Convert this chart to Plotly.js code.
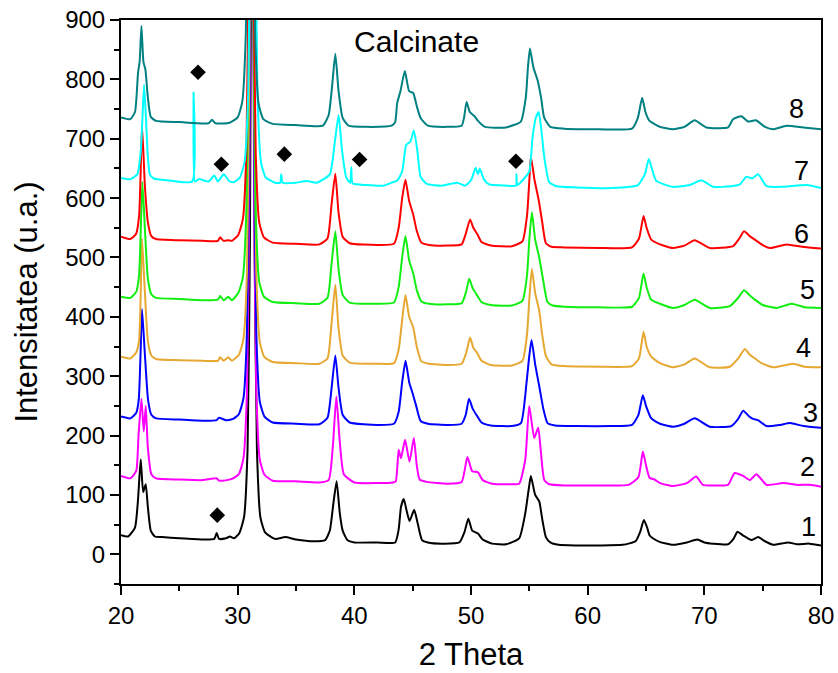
<!DOCTYPE html>
<html>
<head>
<meta charset="utf-8">
<script src="https://cdn.plot.ly/plotly-3.0.1.min.js"></script>
<style>html,body{margin:0;padding:0;background:#fff;}#chart{width:838px;height:673px;}</style>
</head>
<body>
<div id="chart"></div>
<script>
// ---- data (2 Theta vs intensity, curves offset) ----
const seriesNames = ["1","2","3","4","5","6","7","8"];
const seriesColors = ["#000000","#FF00FF","#0000FF","#E6A832","#11EE11","#FF0000","#00FFFF","#008080"];

const x1 = [20,20.6,21.2,21.45,21.69,21.9,22.12,22.3,22.55,22.9,23.5,25,27,28.0,28.2,28.4,29.0,29.34,29.7,30.15,30.55,30.85,31.05,31.25,31.45,31.65,31.95,32.35,33.2,34.07,35,36.5,37.5,37.9,38.2,38.48,38.75,39.0,39.4,40,42,43.5,43.8,44.0,44.24,44.5,44.73,45.13,45.4,45.8,46.3,47.5,49.0,49.45,49.77,50.1,50.6,51.0,51.8,53,54.13,54.65,54.95,55.13,55.5,55.85,56.1,56.42,56.8,57.5,59,61,63,64.1,64.5,64.82,65.1,65.3,65.59,66.16,67.3,68.5,69.4,70.0,70.75,72.03,72.5,72.84,73.3,74.04,74.61,75.2,75.9,77.2,77.9,79.0,80];
const y1 = [32,30,45,90,160,105,118,80,40,30,29,27,25,26,36,26,27,30,27,36,63,178,528,1528,527,177,62,37,26,29,25,22,24,40,85,123,70,40,24,20,20,20,42,80,93,72,56,75,55,24,20,18,20,38,60,40,35,25,18,17,27,69,110,132,100,89,60,29,20,16,15,15,16,22,38,58,45,32,27,21,16,20,25,20,18,17,26,38,32,24,29,22,16,20,17,18,15];

const x2 = [20,20.8,21.3,21.5,21.75,21.95,22.12,22.3,22.6,23.0,25,27,28.2,28.4,28.7,29.5,30.1,30.5,30.8,31.0,31.2,31.4,31.6,31.9,32.3,33,35,37,37.8,38.15,38.46,38.75,39.1,40,42,43.3,43.55,43.8,44.0,44.35,44.73,45.1,45.35,45.6,46.2,48,49.2,49.69,50.1,50.6,51.0,51.8,53.5,54.13,54.65,54.99,55.42,55.76,56.0,56.28,56.7,58,61,63.5,64.35,64.73,65.0,65.3,65.73,66.2,67.3,68.5,69.3,69.88,71,72.03,72.6,73.33,73.9,74.47,75.33,76.76,77.9,79,80];
const y2 = [132,128,140,200,262,207,250,180,135,128,126,125,128,124,124,127,135,162,277,627,1627,624,274,159,134,124,123,121,125,180,266,190,135,121,120,121,123,176,162,193,156,196,150,126,122,119,122,164,140,138,125,119,118,119,159,250,196,213,170,125,118,116,116,117,130,173,150,129,126,120,115,120,131,117,116,117,137,132,125,135,117,120,117,117,114];

const x3 = [20,20.8,21.3,21.52,21.68,21.8,22.04,22.32,22.6,23.0,25,27,28.2,28.4,29,29.6,30.1,30.5,30.8,31.0,31.2,31.4,31.6,31.9,32.3,33,35,37,37.7,38.05,38.37,38.65,39.0,39.6,42,43.4,43.8,44.1,44.39,44.7,45.0,45.3,45.67,46.3,48,49.2,49.55,49.83,50.15,50.46,50.9,51.7,53.5,54.28,54.76,55.0,55.19,55.5,55.85,56.2,56.56,57.2,59,62,63.8,64.35,64.73,65.0,65.45,66.2,67.3,68.3,69.17,70.46,72.32,72.9,73.33,73.8,74.18,74.6,75.33,76.5,77.34,78.5,80];
const y3 = [232,229,238,260,340,413,339,260,235,229,227,225,226,230,226,228,236,263,378,728,1728,722,372,257,232,222,220,219,230,280,335,280,235,222,218,220,240,290,326,290,271,250,225,220,218,220,235,262,245,235,222,217,216,221,289,335,361,320,283,245,221,217,216,216,218,235,268,250,229,220,215,220,229,215,216,228,242,233,228,226,216,218,221,216,213];

const x4 = [20,20.8,21.3,21.55,21.68,21.8,22.05,22.3,22.6,23.0,25,27,28.3,28.5,28.8,29.2,29.5,30.1,30.5,30.8,31.0,31.2,31.4,31.6,31.9,32.3,33,35,37,37.7,38.05,38.37,38.65,39.0,39.6,42,43.4,43.8,44.1,44.38,44.7,45.05,45.35,45.75,46.4,48,49.2,49.6,49.92,50.2,50.5,50.9,51.7,53.5,54.41,54.8,55.0,55.22,55.5,55.85,56.1,56.42,56.9,58,61,63.8,64.4,64.79,65.05,65.45,66.2,67.3,68.3,69.17,70.46,72.18,72.9,73.47,73.9,74.33,74.9,75.9,77.62,78.6,80];
const y4 = [333,330,340,360,430,532,440,360,335,329,327,326,326,332,326,332,326,336,363,478,828,1828,822,472,357,332,324,322,321,330,390,454,380,335,323,321,322,345,395,437,400,382,350,325,321,319,321,340,365,348,340,326,319,318,326,370,430,481,440,410,370,334,320,317,316,317,330,375,350,333,322,315,320,330,315,316,330,346,336,330,322,315,321,316,315];

const x5 = [20,20.8,21.3,21.55,21.7,21.83,22.07,22.3,22.6,23.0,25,27,28.3,28.5,28.8,29.2,29.5,30.05,30.45,30.75,30.95,31.15,31.35,31.55,31.85,32.25,33,35,37,37.7,38.05,38.37,38.65,39.0,39.6,42,43.4,43.8,44.1,44.38,44.7,45.05,45.35,45.75,46.4,48,49.2,49.55,49.85,50.15,50.5,50.9,51.7,53.5,54.41,54.8,55.0,55.22,55.5,55.85,56.2,56.56,57.0,58,61,63.8,64.4,64.79,65.05,65.45,66.2,67.3,68.3,69.17,70.46,72.18,72.9,73.4,73.9,74.33,75.0,76.2,77.48,78.6,80];
const y5 = [434,432,442,470,550,627,540,465,438,432,430,428,429,435,428,434,428,440,467,582,932,1932,924,574,459,434,425,423,422,432,490,544,480,437,424,422,424,450,500,536,495,473,445,426,422,421,423,440,464,448,437,425,420,419,427,470,530,576,530,500,460,425,419,417,416,417,432,473,450,429,422,415,420,429,415,418,432,445,436,429,420,415,422,416,415];

const x6 = [20,20.8,21.3,21.55,21.68,21.8,22.05,22.3,22.6,23.0,25,27,28.3,28.5,28.8,29.2,29.5,30.05,30.45,30.75,30.95,31.15,31.35,31.55,31.85,32.25,33,35,37,37.7,38.05,38.37,38.65,39.0,39.6,42,43.4,43.8,44.1,44.38,44.7,45.05,45.35,45.75,46.4,48,49.2,49.55,49.92,50.2,50.55,50.9,51.7,53.5,54.41,54.8,55.0,55.13,55.45,55.8,56.1,56.42,56.9,58,61,63.8,64.4,64.79,65.05,65.45,66.2,67.3,68.3,69.17,70.46,72.46,73.0,73.4,73.9,74.33,75.0,75.62,77.05,78.4,80];
const y6 = [535,531,540,570,640,723,620,560,536,531,529,528,528,534,528,529,528,538,565,680,1030,2030,1024,674,559,534,525,523,522,532,590,641,575,535,524,521,523,550,600,631,595,572,545,525,521,520,522,540,564,550,539,526,520,519,527,570,630,670,630,597,560,524,518,517,516,517,532,570,550,530,522,516,520,529,516,519,532,544,536,530,521,516,522,518,515];

const x7 = [20,20.8,21.4,21.7,21.85,21.98,22.15,22.3,22.47,22.8,24,26.1,26.22,26.34,26.7,27.5,28.0,28.3,28.8,29.3,29.7,30.2,30.6,30.9,31.1,31.3,31.5,31.7,32.0,32.4,33.2,33.65,33.73,33.85,35.0,35.9,36.8,37.9,38.3,38.65,38.95,39.3,39.65,39.74,39.85,41,42.5,43.2,43.7,44.1,44.45,44.8,45.1,45.4,45.68,46.2,47.5,48.8,49.5,50.0,50.4,50.6,50.75,51.1,51.55,53.0,53.85,53.9,53.97,54.56,55.0,55.28,55.55,55.8,56.0,56.28,56.7,57.3,59,62,64.3,64.9,65.24,65.5,65.88,67.3,68.74,69.74,70.75,72.3,73.04,73.6,74.1,74.61,75.33,76.76,78.77,80];
const y7 = [634,632,640,680,740,791,730,670,640,633,630,628,778,628,632,628,638,628,640,628,627,635,662,777,1127,2127,1125,775,660,635,626,626,640,626,626,629,626,640,690,740,680,635,626,652,625,622,621,626,630,645,690,695,714,680,636,624,621,626,621,630,651,640,650,632,623,621,621,640,622,633,645,703,735,745,720,669,627,620,618,617,622,640,666,650,629,619,622,630,619,620,623,636,633,640,620,619,622,617];

const x8 = [20,20.8,21.2,21.46,21.6,21.75,21.92,22.09,22.3,22.55,23,25,27.5,27.8,28.1,29.3,30.0,30.4,30.7,30.9,31.1,31.3,31.5,31.8,32.2,33,35,37.3,37.8,38.1,38.37,38.65,39.0,39.5,41,43.2,43.5,43.67,43.95,44.33,44.7,45.05,45.35,45.68,46.3,48,49.2,49.4,49.62,49.9,50.3,50.6,51.2,53,54.27,54.7,54.88,55.05,55.35,55.7,56.0,56.28,56.8,58,61,63.8,64.3,64.67,64.95,65.3,65.45,66.2,67.3,68.3,69.17,70.17,72.03,72.46,73.18,73.75,74.41,75.2,75.9,77.05,78.48,80];
const y8 = [736,733,745,811,830,890,830,817,770,737,730,728,726,732,726,727,736,763,878,1228,2228,1223,873,758,733,725,723,722,740,790,843,780,735,722,720,722,728,760,780,814,780,777,755,735,722,720,722,735,762,745,738,730,720,719,729,770,820,852,820,799,770,735,720,717,716,717,735,769,745,730,728,720,716,720,731,719,719,733,738,729,731,720,716,722,719,716];

// diamond markers (impurity reflections)
const diamondX = [26.6, 28.6, 34.0, 40.45, 53.85, 28.25];
const diamondY = [812, 657, 674, 665, 662, 66];

// curve labels at the right side
const labelText = ["1","2","3","4","5","6","7","8"];
const labelX = [78.9, 78.8, 79.1, 78.5, 78.8, 78.3, 78.3, 77.9];
const labelY = [46, 147, 238, 348, 446, 539, 646, 750];

const xTickVals = [20,30,40,50,60,70,80];
const yTickVals = [0,100,200,300,400,500,600,700,800,900];

const xs = [x1,x2,x3,x4,x5,x6,x7,x8];
const ys = [y1,y2,y3,y4,y5,y6,y7,y8];

const FONT = "Liberation Sans, Arial, Helvetica, sans-serif";

const traces = xs.map((xv, i) => ({
  type: "scatter", mode: "lines", name: seriesNames[i],
  x: xv, y: ys[i],
  line: {color: seriesColors[i], width: 2, shape: "spline", smoothing: 0.5},
  hoverinfo: "skip", showlegend: false
}));
traces.push({
  type: "scatter", mode: "markers", x: diamondX, y: diamondY,
  marker: {symbol: "diamond", size: 12, color: "#000000"},
  hoverinfo: "skip", showlegend: false, cliponaxis: false
});

const annotations = labelText.map((t, i) => ({
  x: labelX[i], y: labelY[i], xref: "x", yref: "y", text: t, showarrow: false,
  font: {family: FONT, size: 27, color: "#000"}, xanchor: "center", yanchor: "middle"
}));
annotations.push({
  x: 45.3, y: 863, xref: "x", yref: "y", text: "Calcinate", showarrow: false,
  font: {family: FONT, size: 30, color: "#000"}, xanchor: "center", yanchor: "middle"
});

const axisCommon = {
  showgrid: false, zeroline: false, showline: true, linecolor: "#000", linewidth: 2,
  mirror: true, ticks: "outside", ticklen: 9, tickwidth: 2, tickcolor: "#000",
  tickfont: {family: FONT, size: 24, color: "#000"}
};

const layout = {
  width: 838, height: 673,
  margin: {l: 121, r: 17, t: 20, b: 89, pad: 0},
  paper_bgcolor: "#fff", plot_bgcolor: "#fff",
  font: {family: FONT, color: "#000"},
  xaxis: Object.assign({}, axisCommon, {
    range: [20, 80], tickvals: xTickVals, ticktext: xTickVals.map(String),
    minor: {dtick: 5, tick0: 0, ticks: "outside", ticklen: 5, tickwidth: 2, tickcolor: "#000", showgrid: false},
    title: {text: "2 Theta", font: {family: FONT, size: 31, color: "#000"}, standoff: 16}
  }),
  yaxis: Object.assign({}, axisCommon, {
    range: [-50, 900], tickvals: yTickVals, ticktext: yTickVals.map(String),
    minor: {dtick: 50, tick0: 0, ticks: "outside", ticklen: 5, tickwidth: 2, tickcolor: "#000", showgrid: false},
    title: {text: "Intensitatea (u.a.)", font: {family: FONT, size: 31, color: "#000"}, standoff: 18}
  }),
  annotations: annotations,
  showlegend: false
};

Plotly.newPlot("chart", traces, layout, {staticPlot: true, displayModeBar: false});
</script>
</body>
</html>
